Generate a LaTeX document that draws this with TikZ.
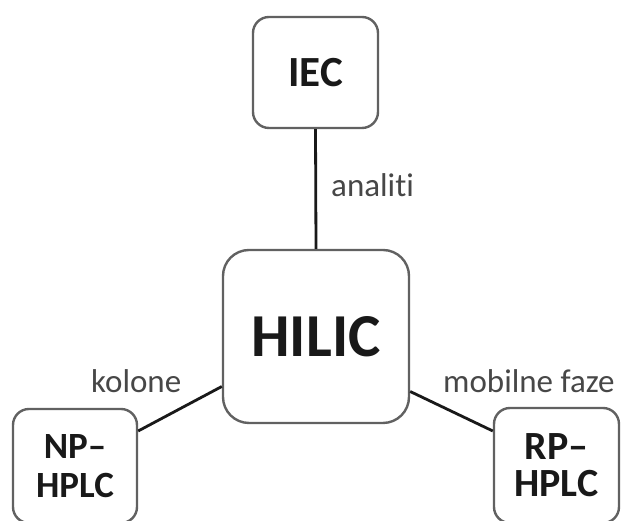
\documentclass[tikz,border=0pt]{standalone}
\usepackage{fontspec}
\setmainfont{Carlito}[Ligatures=NoCommon]
\begin{document}
\begin{tikzpicture}[x=1pt,y=1pt,
  box/.style={draw=black!62, line width=2.4pt, rounded corners=16pt, fill=white,
    inner sep=0pt, align=center, text=black!90, font=\bfseries},
  conn/.style={draw=black!90, line width=2.8pt},
  lbl/.style={text=black!72, font=\fontsize{33}{36}\selectfont, inner sep=0pt}]
\useasboundingbox[fill=white] (0,0) rectangle (627,521);
\node[box, minimum width=125pt, minimum height=111pt, font=\bfseries\fontsize{43}{46}\selectfont] (iec) at (315.5,448.5) {IEC};
\node[box, minimum width=186pt, minimum height=173pt, rounded corners=26pt, font=\bfseries\fontsize{61}{66}\selectfont] (hilic) at (316,184.5) {HILIC};
\node[box, minimum width=124pt, minimum height=114pt, font=\bfseries\fontsize{37}{39}\selectfont] (np) at (75,55) {NP–\\HPLC};
\node[box, minimum width=125pt, minimum height=115pt, font=\bfseries\fontsize{40}{37}\selectfont] (rp) at (556.5,55.5) {RP–\\HPLC};
\draw[conn] (iec.south) -- (hilic.north);
\draw[conn] ([yshift=35pt]np.east) -- ([yshift=-50pt]hilic.west);
\draw[conn] ([yshift=-55pt]hilic.east) -- ([yshift=34.5pt]rp.west);
\node[lbl, anchor=base west] (l1) at (331,324) {analiti};
\node[lbl, anchor=base west] (l2) at (91,128) {kolone};
\node[lbl, anchor=base west] (l3) at (443,128) {mobilne faze};
\end{tikzpicture}
\end{document}
